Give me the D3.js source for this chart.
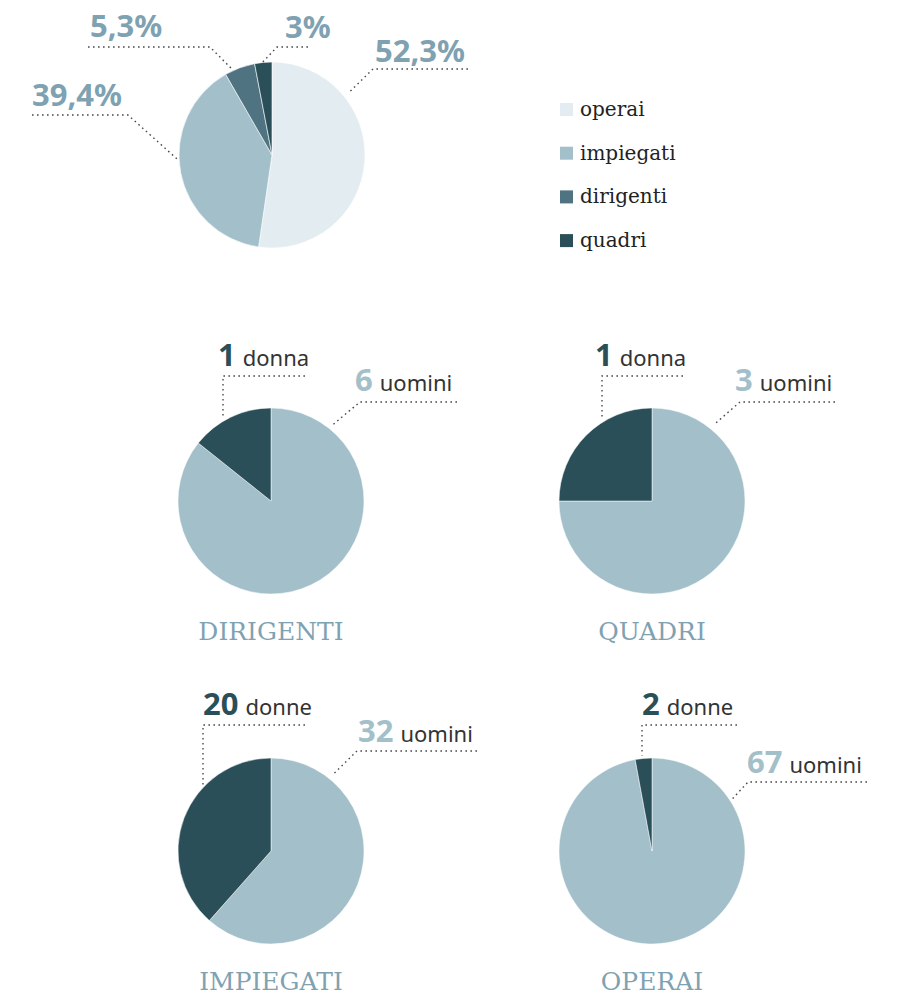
<!DOCTYPE html>
<html>
<head>
<meta charset="utf-8">
<script src="https://cdn.jsdelivr.net/npm/d3@7/dist/d3.min.js"></script>
<style>
  html, body { margin: 0; padding: 0; background: #ffffff; }
  svg { display: block; }
</style>
</head>
<body>
<svg id="chart" width="897" height="996"></svg>
<script>
// ---------- DATA ----------
const topCategories = ["operai", "impiegati", "dirigenti", "quadri"];
const topShares = [52.3, 39.4, 5.3, 3];
const topLabels = ["52,3%", "39,4%", "5,3%", "3%"];

const groups = ["DIRIGENTI", "QUADRI", "IMPIEGATI", "OPERAI"];
const uomini = [6, 3, 32, 67];
const donne = [1, 1, 20, 2];
const donneWords = ["donna", "donna", "donne", "donne"];
const uominiWord = "uomini";

// ---------- STYLE ----------
const catColors = ["#e3ecf1", "#a3c0ca", "#4f7380", "#2b4f59"];
const colUomini = "#a3c0ca";
const colDonne = "#2b4f59";
const labelBlue = "#7fa2b2";
const wordColor = "#333333";
const dotColor = "#4a4a4a";
const numFont = "'Noto Sans', sans-serif";
const serifFont = "'DejaVu Serif', serif";

const svg = d3.select("#chart");
const R = 93;

const pie = d3.pie().sort(null).value(d => d);
const arc = d3.arc().innerRadius(0).outerRadius(R);

function dotted(g, pts) {
  g.append("path")
    .attr("d", d3.line()(pts))
    .attr("fill", "none")
    .attr("stroke", dotColor)
    .attr("stroke-width", 1.4)
    .attr("stroke-dasharray", "1.6,3.4");
}
function polar(cx, cy, deg, r) {
  const a = deg * Math.PI / 180;
  return [cx + r * Math.sin(a), cy - r * Math.cos(a)];
}

// ---------- TOP PIE ----------
const topPie = { cx: 272, cy: 155 };
const gTop = svg.append("g");
gTop.append("g").attr("transform", `translate(${topPie.cx},${topPie.cy})`)
  .selectAll("path").data(pie(topShares)).join("path")
  .attr("d", arc)
  .attr("fill", (d, i) => catColors[i])
  .attr("stroke", "#ffffff").attr("stroke-width", 0.6);

// label layout (relative to pie centre): text pos, underline, anchor angle
const topLayout = [
  { tx: 103, ty: -93, ux1: 101, ux2: 196, uy: -86, ang: 51, r: 98 },   // operai
  { tx: -240, ty: -49, ux1: -240, ux2: -144, uy: -40, ang: -93, r: 94 }, // impiegati
  { tx: -182, ty: -118, ux1: -184, ux2: -62, uy: -108, ang: -24.6, r: 93 }, // dirigenti
  { tx: 13, ty: -117, ux1: 5, ux2: 36, uy: -108, ang: -6, r: 93 }      // quadri
];
topLabels.forEach((lab, i) => {
  const L = topLayout[i];
  const x0 = topPie.cx, y0 = topPie.cy;
  gTop.append("text")
    .attr("x", x0 + L.tx).attr("y", y0 + L.ty)
    .attr("font-family", numFont).attr("font-weight", 700)
    .attr("font-size", 31).attr("fill", labelBlue)
    .text(lab);
  const p = polar(x0, y0, L.ang, L.r);
  const leftSide = L.ang < -10;
  const joinX = leftSide ? x0 + L.ux2 : x0 + L.ux1;
  const farX = leftSide ? x0 + L.ux1 : x0 + L.ux2;
  dotted(gTop, [[farX, y0 + L.uy], [joinX, y0 + L.uy], p]);
});

// ---------- LEGEND ----------
const legend = svg.append("g").attr("transform", "translate(560,110)");
topCategories.forEach((c, i) => {
  const y = i * 43.7;
  legend.append("rect").attr("x", 0).attr("y", y - 7).attr("width", 13).attr("height", 13)
    .attr("fill", catColors[i]);
  legend.append("text").attr("x", 20).attr("y", y + 6)
    .attr("font-family", serifFont).attr("font-size", 20).attr("fill", "#222")
    .text(c);
});

// ---------- SMALL PIES ----------
const centers = [[271, 501], [652, 501], [271, 851], [652, 851]];
// layout offsets relative to each centre
const donneLayout = [
  { tx: -53, ty: -135, ux1: -48, ux2: 34, uy: -125 },
  { tx: -57, ty: -135, ux1: -50, ux2: 31, uy: -125 },
  { tx: -68, ty: -136, ux1: -68, ux2: 34, uy: -126 },
  { tx: -10, ty: -136, ux1: -10, ux2: 85, uy: -126 }
];
const uominiLayout = [
  { tx: 84, ty: -110, ux1: 89, ux2: 186, uy: -99, ang: 39, r: 98 },
  { tx: 83, ty: -110, ux1: 88, ux2: 183, uy: -99, ang: 39, r: 98 },
  { tx: 87, ty: -109, ux1: 86, ux2: 206, uy: -100, ang: 39, r: 98 },
  { tx: 95, ty: -78, ux1: 96, ux2: 215, uy: -69, ang: 57, r: 96 }
];

groups.forEach((name, i) => {
  const [cx, cy] = centers[i];
  const g = svg.append("g");
  g.append("g").attr("transform", `translate(${cx},${cy})`)
    .selectAll("path").data(pie([uomini[i], donne[i]])).join("path")
    .attr("d", arc)
    .attr("fill", (d, j) => j === 0 ? colUomini : colDonne)
    .attr("stroke", "#ffffff").attr("stroke-width", 0.5);

  // title
  g.append("text").attr("x", cx).attr("y", cy + 139)
    .attr("text-anchor", "middle")
    .attr("font-family", serifFont).attr("font-size", 25)
    .attr("fill", labelBlue)
    .text(name);

  // donne label
  const D = donneLayout[i];
  const t1 = g.append("text").attr("x", cx + D.tx).attr("y", cy + D.ty);
  t1.append("tspan").attr("font-family", numFont).attr("font-weight", 700)
    .attr("font-size", 31).attr("fill", colDonne).text(donne[i]);
  t1.append("tspan").attr("dx", 7).attr("font-family", numFont).attr("font-weight", 400)
    .attr("font-size", 22).attr("fill", wordColor).text(donneWords[i]);
  const vx = cx + D.ux1;
  const edgeY = cy - Math.sqrt(R * R - D.ux1 * D.ux1) - 3;
  dotted(g, [[cx + D.ux2, cy + D.uy], [vx, cy + D.uy], [vx, edgeY]]);

  // uomini label
  const U = uominiLayout[i];
  const t2 = g.append("text").attr("x", cx + U.tx).attr("y", cy + U.ty);
  t2.append("tspan").attr("font-family", numFont).attr("font-weight", 700)
    .attr("font-size", 31).attr("fill", colUomini).text(uomini[i]);
  t2.append("tspan").attr("dx", 7).attr("font-family", numFont).attr("font-weight", 400)
    .attr("font-size", 22).attr("fill", wordColor).text(uominiWord);
  const p = polar(cx, cy, U.ang, U.r);
  dotted(g, [[cx + U.ux2, cy + U.uy], [cx + U.ux1, cy + U.uy], p]);
});
</script>
</body>
</html>
